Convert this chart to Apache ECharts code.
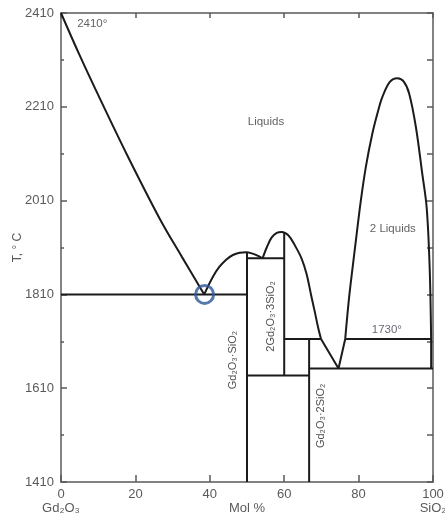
<!DOCTYPE html>
<html>
<head>
<meta charset="utf-8">
<script src="https://cdn.jsdelivr.net/npm/echarts@6/dist/echarts.min.js"></script>
<style>html,body{margin:0;padding:0;background:#fff}#c{width:445px;height:521px}</style>
</head>
<body>
<div id="c"></div>
<script>
// ---- data (mol % SiO2, temperature °C) ----
const xTicks = [0, 20, 40, 60, 80, 100];
const yTickLabels = [1410, 1610, 1810, 2010, 2210, 2410];
const yMinorTicks = [1510, 1710, 1910, 2110, 2310];
const xEndNames = ['Gd₂O₃', 'SiO₂'];

const leftLiquidus = [[0,2410],[5,2320],[10.3,2230],[17.6,2110],[26.5,1972],[32.5,1890],[38.5,1810]];
const liquidusA = [[38.5,1810],[40.8,1847],[42.5,1868],[44.4,1884],[46.2,1894],[48,1899],[49.8,1900],[51.5,1897],[53,1892],[54.2,1887]];
const liquidusB = [[54.2,1887],[55.3,1910],[56.6,1931],[58,1941],[59.3,1943],[61.1,1936],[62.9,1914],[64.7,1886],[66,1854],[67.3,1806],[68.3,1770],[69.1,1740],[69.9,1715]];
const eutecticV = [[69.9,1715],[74.6,1652],[76.4,1715]];
const dome = [[76.4,1715],[77.4,1800],[78.4,1868],[79.5,1940],[80.6,2010],[81.95,2082],[83.7,2153],[85.2,2200],[86.4,2231],[88.4,2263],[90.4,2271],[92.1,2264],[93.6,2238],[95.4,2167],[97.1,2068],[98.3,1995],[99.1,1868],[99.5,1715]];
const tieLines = [
  [[0,1810],[50,1810]],
  [[50,1899],[50,1410]],
  [[50,1887],[60,1887]],
  [[60,1943],[60,1637]],
  [[50,1637],[66.7,1637]],
  [[60,1715],[69.9,1715]],
  [[66.7,1715],[66.7,1410]],
  [[66.7,1652],[100,1652]],
  [[76.4,1715],[99.5,1715]],
  [[99.5,1715],[99.5,1652]]
];
const eutecticMark = [[38.6,1810]];
const annotationText = ['2410°','Liquids','2 Liquids','1730°','Gd₂O₃·SiO₂','2Gd₂O₃·3SiO₂','Gd₂O₃·2SiO₂'];
const annotationX = [8.4, 55.1, 89.2, 87.6, 46.3, 56.4, 70.0];
const annotationT = [2386, 2179, 1950, 1734, 1670, 1763, 1551];
const rotatedLabels = ['Gd₂O₃·SiO₂','2Gd₂O₃·3SiO₂','Gd₂O₃·2SiO₂'];

// ---- chart ----
const FONT = 'Liberation Sans, Arial, sans-serif';
const AX = '#5a5a5a';
const INK = '#1b1b1b';
const chart = echarts.init(document.getElementById('c'), null, {renderer: 'canvas'});

const curveSeries = [leftLiquidus, liquidusA, liquidusB, dome].map(d => ({
  type: 'line', data: d, showSymbol: false, smooth: 0.35, animation: false,
  lineStyle: {color: INK, width: 2}, z: 3
}));
const straightSeries = [eutecticV].concat(tieLines).map(d => ({
  type: 'line', data: d, showSymbol: false, smooth: false, animation: false,
  lineStyle: {color: INK, width: 2}, z: 3
}));

const annData = annotationText.map((t, i) => ({
  value: [annotationX[i], annotationT[i]],
  label: {
    formatter: t,
    rotate: rotatedLabels.includes(t) ? 90 : 0,
    color: rotatedLabels.includes(t) ? '#222' : (t === '1730°' ? '#4a4052' : '#3a3a3a'),
    fontSize: rotatedLabels.includes(t) ? 11 : 11.5
  }
}));

chart.setOption({
  animation: false,
  grid: {left: 61, right: 12, top: 13, bottom: 39, containLabel: false, outerBoundsMode: 'none'},
  xAxis: [
    {
      type: 'value', min: 0, max: 100, position: 'bottom',
      name: 'Mol %', nameLocation: 'middle', nameGap: 20, nameMoveOverlap: false,
      nameTextStyle: {color: AX, fontSize: 13, fontFamily: FONT},
      axisLine: {lineStyle: {color: AX, width: 1.5}},
      axisTick: {inside: true, length: 7, customValues: xTicks, lineStyle: {color: AX, width: 1.5}},
      axisLabel: {
        customValues: xTicks, color: AX, fontSize: 13, fontFamily: FONT, margin: 5, lineHeight: 14,
        formatter: v => v === 0 ? '0\n' + xEndNames[0] : (v === 100 ? '100\n' + xEndNames[1] : String(v))
      },
      splitLine: {show: false}
    },
    {
      type: 'value', min: 0, max: 100, position: 'top',
      axisLine: {lineStyle: {color: AX, width: 1.5}},
      axisTick: {inside: true, length: 5, customValues: xTicks, lineStyle: {color: AX, width: 1.5}},
      axisLabel: {show: false}, splitLine: {show: false}
    }
  ],
  yAxis: [
    {
      type: 'value', min: 1410, max: 2410, position: 'left',
      name: 'T, ° C', nameLocation: 'middle', nameGap: 37, nameRotate: 90, nameMoveOverlap: false,
      nameTextStyle: {color: AX, fontSize: 12, fontFamily: FONT},
      axisLine: {lineStyle: {color: AX, width: 1.5}},
      axisTick: {inside: true, length: 6, customValues: yTickLabels, lineStyle: {color: AX, width: 1.5}},
      axisLabel: {customValues: yTickLabels, color: AX, fontSize: 13, fontFamily: FONT, margin: 7, formatter: v => String(v)},
      splitLine: {show: false}
    },
    {
      type: 'value', min: 1410, max: 2410, position: 'left',
      axisLine: {show: false},
      axisTick: {inside: true, length: 3, customValues: yMinorTicks, lineStyle: {color: AX, width: 1.5}},
      axisLabel: {show: false}, splitLine: {show: false}
    },
    {
      type: 'value', min: 1410, max: 2410, position: 'right',
      axisLine: {lineStyle: {color: AX, width: 1.5}},
      axisTick: {inside: true, length: 6, customValues: yTickLabels.concat(yMinorTicks), lineStyle: {color: AX, width: 1.5}},
      axisLabel: {show: false}, splitLine: {show: false}
    }
  ],
  series: curveSeries.concat(straightSeries).concat([
    {
      type: 'scatter', data: eutecticMark, symbol: 'circle', symbolSize: 18, z: 5,
      itemStyle: {color: 'rgba(0,0,0,0)', borderColor: '#2e5896', borderWidth: 3}
    },
    {
      type: 'scatter', data: annData, symbolSize: 0, z: 6, silent: true,
      label: {show: true, position: 'inside', fontFamily: FONT}
    }
  ])
});
</script>
</body>
</html>
